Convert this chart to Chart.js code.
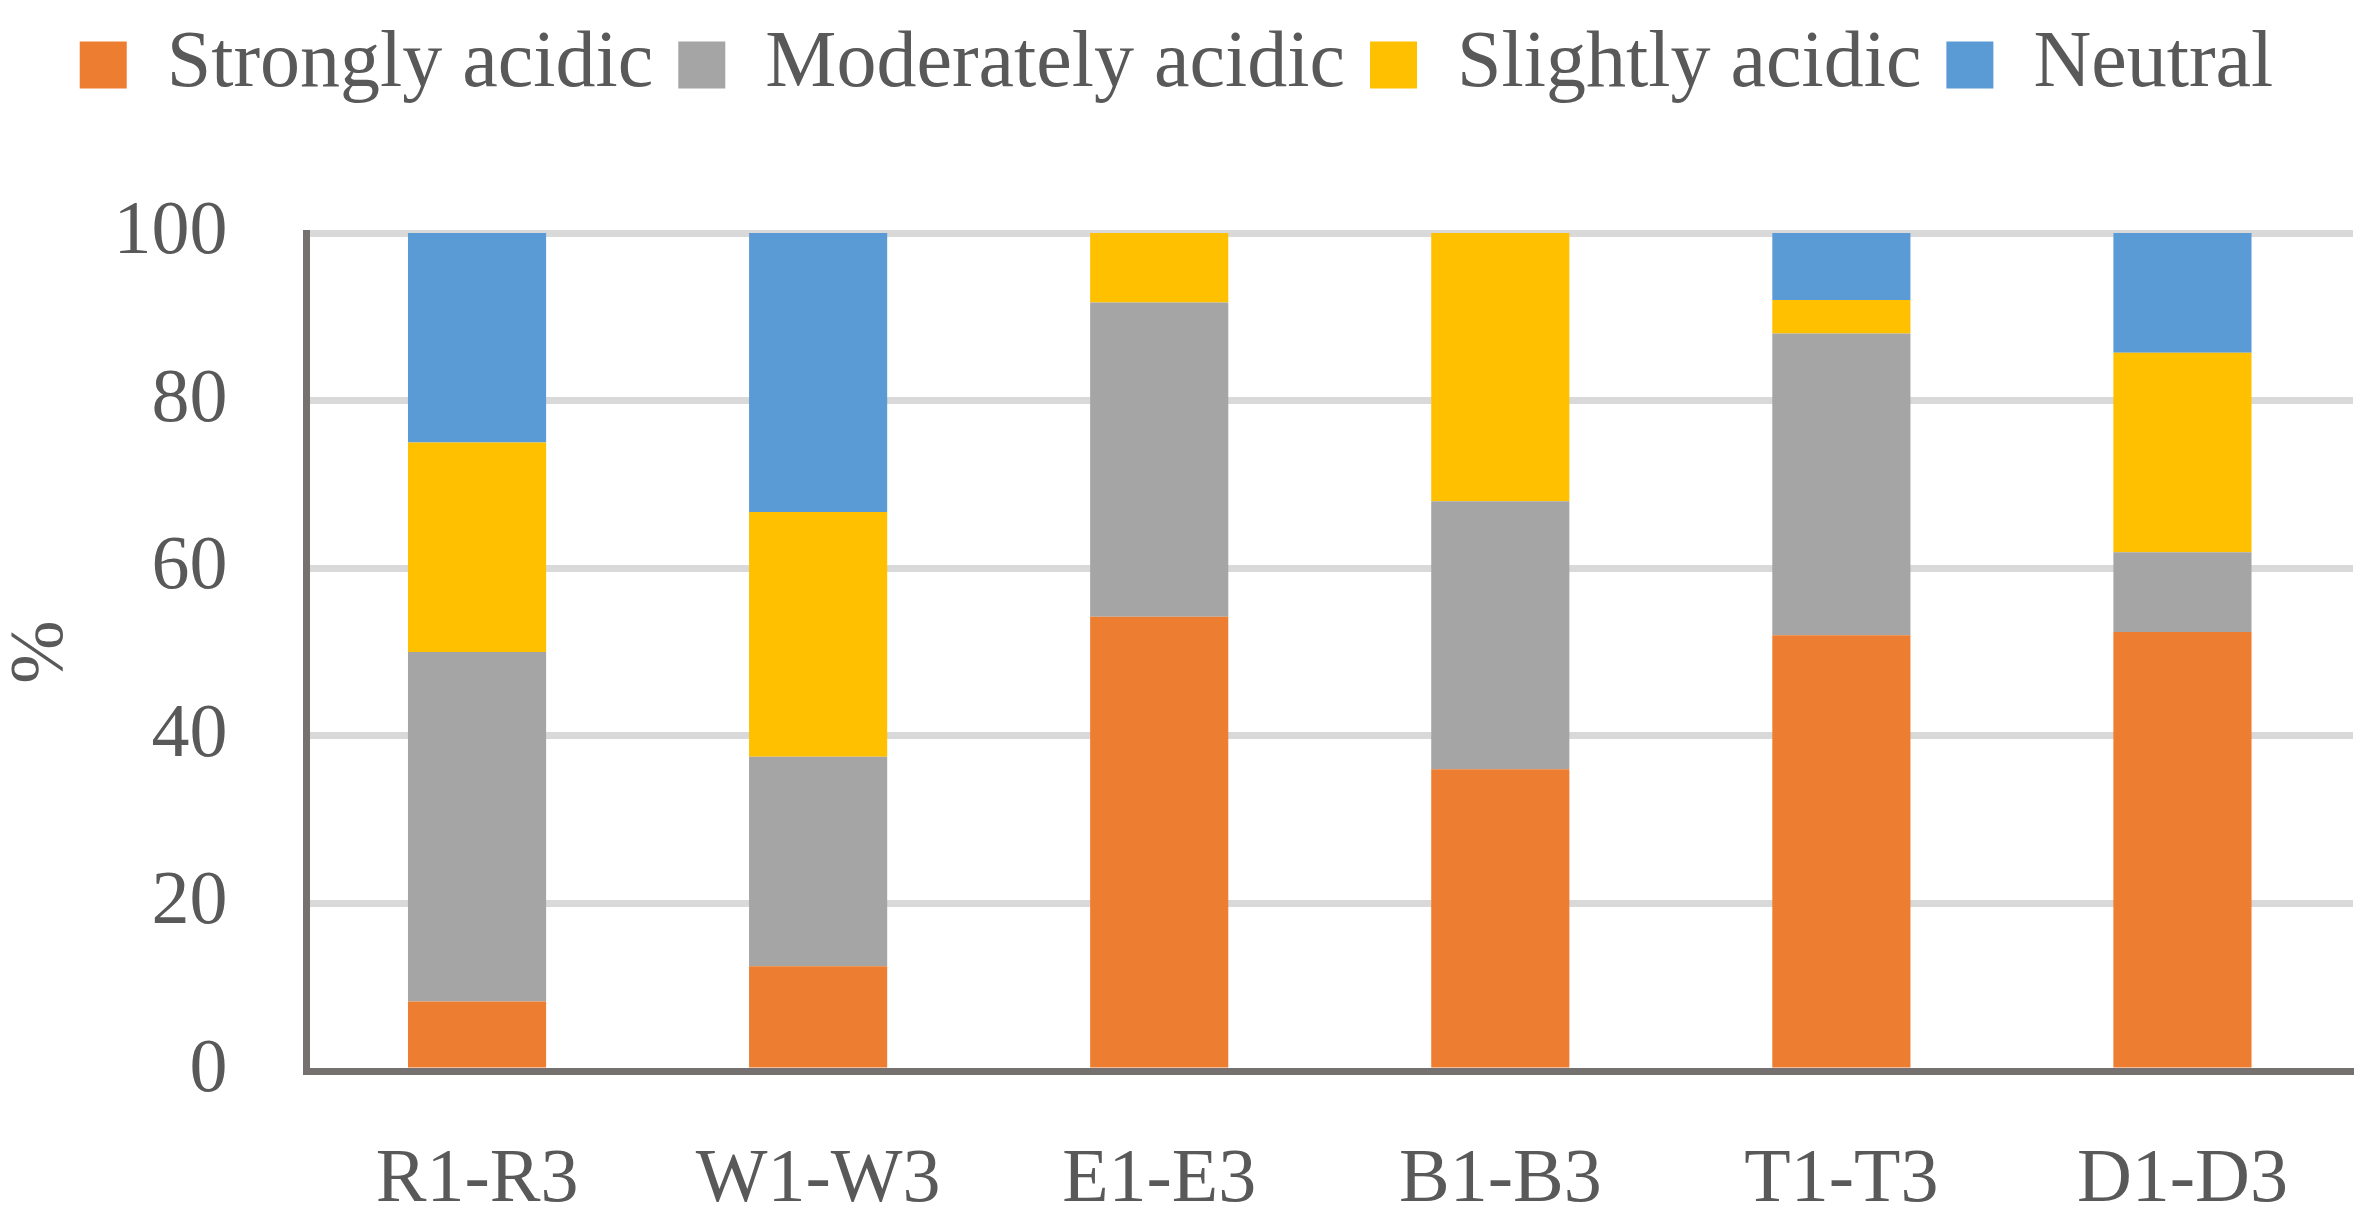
<!DOCTYPE html>
<html>
<head>
<meta charset="utf-8">
<script src="https://cdn.jsdelivr.net/npm/chart.js@4"></script>
<style>
  html, body { margin: 0; padding: 0; background: #fff; }
  #wrap { width: 2379px; height: 1230px; position: relative; }
</style>
</head>
<body>
<div id="wrap"><canvas id="chart"></canvas></div>
<script>
const categories = ["R1-R3", "W1-W3", "E1-E3", "B1-B3", "T1-T3", "D1-D3"];
const strongly   = [8.3, 12.5, 54.2, 36, 52, 52.4];
const moderately = [41.7, 25, 37.5, 32, 36, 9.5];
const slightly   = [25, 29.2, 8.3, 32, 4, 23.8];
const neutral    = [25, 33.3, 0, 0, 8, 14.3];
const yTicks = [0, 20, 40, 60, 80, 100];

const FONT = "'Liberation Serif', 'DejaVu Serif', serif";
const TEXT = "#595959";
const AXIS = "#767171";
const LEGEND_GAP = 118;

/* push the plot down below the legend */
const legendGap = {
  id: "legendGap",
  beforeInit(chart) {
    const fit = chart.legend.fit;
    chart.legend.fit = function () {
      fit.bind(chart.legend)();
      this.height += LEGEND_GAP;
    };
  }
};

new Chart(document.getElementById("chart"), {
  type: "bar",
  data: {
    labels: categories,
    datasets: [
      { label: "Strongly acidic", data: strongly, backgroundColor: "#ED7D31" },
      { label: "Moderately acidic", data: moderately, backgroundColor: "#A5A5A5" },
      { label: "Slightly acidic", data: slightly, backgroundColor: "#FFC000" },
      { label: "Neutral", data: neutral, backgroundColor: "#5B9BD5" }
    ]
  },
  options: {
    responsive: true,
    maintainAspectRatio: false,
    animation: false,
    datasets: { bar: { barPercentage: 0.405, categoryPercentage: 1.0, borderWidth: 0 } },
    layout: { padding: { top: 0, right: 26, left: 0, bottom: 0 } },
    plugins: {
      tooltip: { enabled: false },
      legend: {
        position: "top",
        labels: {
          font: { family: FONT, size: 80 },
          color: TEXT,
          boxWidth: 47,
          boxHeight: 47,
          padding: 25
        }
      }
    },
    scales: {
      x: {
        stacked: true,
        grid: { display: false },
        border: { display: true, color: AXIS, width: 7 },
        ticks: { font: { family: FONT, size: 76 }, color: TEXT, padding: 56 },
        afterFit(scale) { scale.height = 159; }
      },
      y: {
        stacked: true,
        min: 0,
        max: 100,
        afterBuildTicks(scale) { scale.ticks = yTicks.map(v => ({ value: v })); },
        grid: { color: "#D9D9D9", lineWidth: 7, drawTicks: false },
        border: { display: true, color: AXIS, width: 7 },
        ticks: { font: { family: FONT, size: 76 }, color: TEXT, padding: 79 },
        title: {
          display: true,
          text: "%",
          font: { family: FONT, size: 76, lineHeight: 1.1 },
          color: TEXT,
          padding: { top: 0, bottom: 0 }
        },
        afterFit(scale) { scale.width = 306.5; }
      }
    }
  },
  plugins: [legendGap]
});
</script>
</body>
</html>
